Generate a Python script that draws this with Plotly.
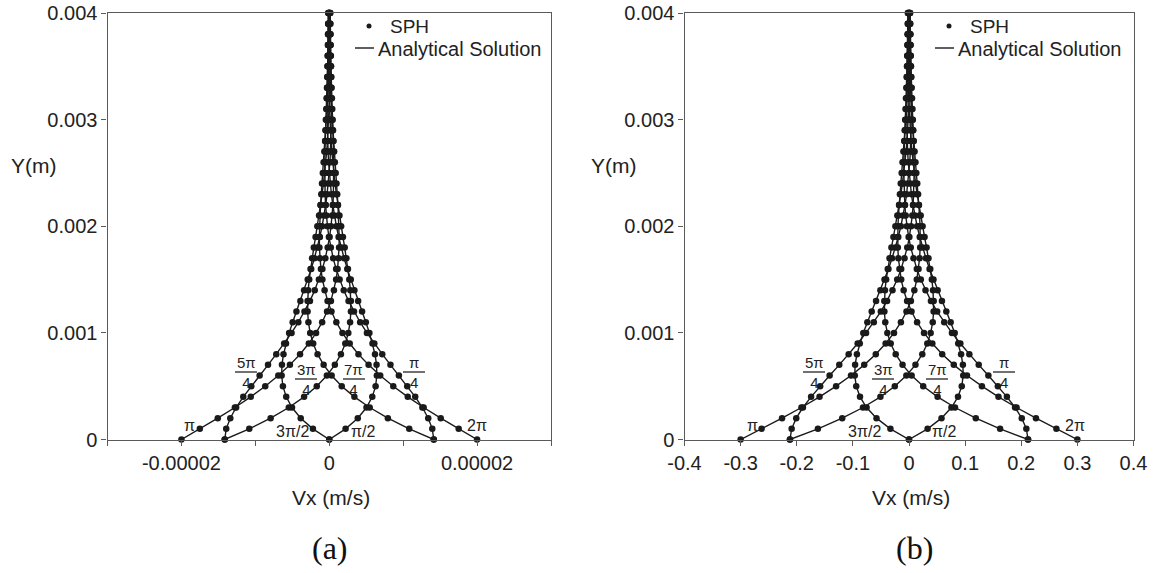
import plotly.graph_objects as go

W, H = 1162, 573
INK = "#1a1a1a"
AXC = "#5a5a5a"
SANS = "Liberation Sans, Arial, sans-serif"
SERIF = "Liberation Serif, Times New Roman, serif"

# ---------------- data ----------------
y_m = [0.0000, 0.0001, 0.0002, 0.0003, 0.0004, 0.0005, 0.0006, 0.0007, 0.0008, 0.0009,
       0.0010, 0.0011, 0.0012, 0.0013, 0.0014, 0.0015, 0.0016, 0.0017, 0.0018, 0.0019,
       0.0020, 0.0021, 0.0022, 0.0023, 0.0024, 0.0025, 0.0026, 0.0027, 0.0028, 0.0029,
       0.0030, 0.0031, 0.0032, 0.0033, 0.0034, 0.0035, 0.0036, 0.0037, 0.0038, 0.0039,
       0.0040]

# panel (a) velocity profiles, m/s
va_2pi = [2.000e-5, 1.751e-5, 1.508e-5, 1.277e-5, 1.062e-5, 0.866e-5, 0.689e-5, 0.532e-5, 0.395e-5, 0.277e-5,
          0.178e-5, 0.096e-5, 0.030e-5, -0.023e-5, -0.063e-5, -0.093e-5, -0.113e-5, -0.126e-5, -0.133e-5, -0.134e-5,
          -0.131e-5, -0.126e-5, -0.118e-5, -0.108e-5, -0.098e-5, -0.087e-5, -0.076e-5, -0.066e-5, -0.056e-5, -0.047e-5,
          -0.038e-5, -0.030e-5, -0.023e-5, -0.017e-5, -0.012e-5, -0.008e-5, -0.004e-5, -0.001e-5, 0.001e-5, 0.003e-5,
          0.004e-5]
va_pi = [-2.000e-5, -1.751e-5, -1.508e-5, -1.277e-5, -1.062e-5, -0.866e-5, -0.689e-5, -0.532e-5, -0.395e-5, -0.277e-5,
         -0.178e-5, -0.096e-5, -0.030e-5, 0.023e-5, 0.063e-5, 0.093e-5, 0.113e-5, 0.126e-5, 0.133e-5, 0.134e-5,
         0.131e-5, 0.126e-5, 0.118e-5, 0.108e-5, 0.098e-5, 0.087e-5, 0.076e-5, 0.066e-5, 0.056e-5, 0.047e-5,
         0.038e-5, 0.030e-5, 0.023e-5, 0.017e-5, 0.012e-5, 0.008e-5, 0.004e-5, 0.001e-5, -0.001e-5, -0.003e-5,
         -0.004e-5]
va_pi2 = [0.000e-5, 0.221e-5, 0.386e-5, 0.504e-5, 0.582e-5, 0.627e-5, 0.644e-5, 0.640e-5, 0.619e-5, 0.585e-5,
          0.543e-5, 0.495e-5, 0.444e-5, 0.391e-5, 0.340e-5, 0.291e-5, 0.244e-5, 0.201e-5, 0.162e-5, 0.127e-5,
          0.097e-5, 0.070e-5, 0.048e-5, 0.029e-5, 0.013e-5, 0.001e-5, -0.009e-5, -0.016e-5, -0.022e-5, -0.025e-5,
          -0.027e-5, -0.028e-5, -0.028e-5, -0.027e-5, -0.025e-5, -0.024e-5, -0.022e-5, -0.019e-5, -0.017e-5, -0.015e-5,
          -0.013e-5]
va_3pi2 = [0.000e-5, -0.221e-5, -0.386e-5, -0.504e-5, -0.582e-5, -0.627e-5, -0.644e-5, -0.640e-5, -0.619e-5, -0.585e-5,
           -0.543e-5, -0.495e-5, -0.444e-5, -0.391e-5, -0.340e-5, -0.291e-5, -0.244e-5, -0.201e-5, -0.162e-5, -0.127e-5,
           -0.097e-5, -0.070e-5, -0.048e-5, -0.029e-5, -0.013e-5, -0.001e-5, 0.009e-5, 0.016e-5, 0.022e-5, 0.025e-5,
           0.027e-5, 0.028e-5, 0.028e-5, 0.027e-5, 0.025e-5, 0.024e-5, 0.022e-5, 0.019e-5, 0.017e-5, 0.015e-5,
           0.013e-5]
va_pi4 = [1.414e-5, 1.394e-5, 1.339e-5, 1.260e-5, 1.163e-5, 1.055e-5, 0.942e-5, 0.828e-5, 0.717e-5, 0.610e-5,
          0.510e-5, 0.418e-5, 0.335e-5, 0.261e-5, 0.196e-5, 0.140e-5, 0.093e-5, 0.053e-5, 0.021e-5, -0.005e-5,
          -0.024e-5, -0.039e-5, -0.050e-5, -0.056e-5, -0.060e-5, -0.061e-5, -0.060e-5, -0.058e-5, -0.055e-5, -0.051e-5,
          -0.046e-5, -0.041e-5, -0.036e-5, -0.031e-5, -0.027e-5, -0.022e-5, -0.018e-5, -0.015e-5, -0.011e-5, -0.009e-5,
          -0.006e-5]
va_5pi4 = [-1.414e-5, -1.394e-5, -1.339e-5, -1.260e-5, -1.163e-5, -1.055e-5, -0.942e-5, -0.828e-5, -0.717e-5, -0.610e-5,
           -0.510e-5, -0.418e-5, -0.335e-5, -0.261e-5, -0.196e-5, -0.140e-5, -0.093e-5, -0.053e-5, -0.021e-5, 0.005e-5,
           0.024e-5, 0.039e-5, 0.050e-5, 0.056e-5, 0.060e-5, 0.061e-5, 0.060e-5, 0.058e-5, 0.055e-5, 0.051e-5,
           0.046e-5, 0.041e-5, 0.036e-5, 0.031e-5, 0.027e-5, 0.022e-5, 0.018e-5, 0.015e-5, 0.011e-5, 0.009e-5,
           0.006e-5]
va_3pi4 = [-1.414e-5, -1.082e-5, -0.793e-5, -0.547e-5, -0.340e-5, -0.169e-5, -0.032e-5, 0.076e-5, 0.158e-5, 0.217e-5,
           0.258e-5, 0.282e-5, 0.293e-5, 0.293e-5, 0.285e-5, 0.271e-5, 0.253e-5, 0.232e-5, 0.209e-5, 0.185e-5,
           0.161e-5, 0.138e-5, 0.117e-5, 0.097e-5, 0.079e-5, 0.062e-5, 0.048e-5, 0.035e-5, 0.024e-5, 0.015e-5,
           0.008e-5, 0.002e-5, -0.003e-5, -0.007e-5, -0.009e-5, -0.011e-5, -0.012e-5, -0.013e-5, -0.013e-5, -0.012e-5,
           -0.012e-5]
va_7pi4 = [1.414e-5, 1.082e-5, 0.793e-5, 0.547e-5, 0.340e-5, 0.169e-5, 0.032e-5, -0.076e-5, -0.158e-5, -0.217e-5,
           -0.258e-5, -0.282e-5, -0.293e-5, -0.293e-5, -0.285e-5, -0.271e-5, -0.253e-5, -0.232e-5, -0.209e-5, -0.185e-5,
           -0.161e-5, -0.138e-5, -0.117e-5, -0.097e-5, -0.079e-5, -0.062e-5, -0.048e-5, -0.035e-5, -0.024e-5, -0.015e-5,
           -0.008e-5, -0.002e-5, 0.003e-5, 0.007e-5, 0.009e-5, 0.011e-5, 0.012e-5, 0.013e-5, 0.013e-5, 0.012e-5,
           0.012e-5]

# panel (b) velocity profiles, m/s
vb_2pi = [0.3000, 0.2626, 0.2262, 0.1916, 0.1594, 0.1299, 0.1033, 0.0798, 0.0592, 0.0416,
          0.0267, 0.0144, 0.0045, -0.0034, -0.0095, -0.0139, -0.0170, -0.0189, -0.0199, -0.0201,
          -0.0197, -0.0188, -0.0177, -0.0162, -0.0147, -0.0131, -0.0115, -0.0099, -0.0084, -0.0070,
          -0.0057, -0.0045, -0.0035, -0.0026, -0.0018, -0.0012, -0.0007, -0.0002, 0.0001, 0.0004,
          0.0006]
vb_pi = [-0.3000, -0.2626, -0.2262, -0.1916, -0.1594, -0.1299, -0.1033, -0.0798, -0.0592, -0.0416,
         -0.0267, -0.0144, -0.0045, 0.0034, 0.0095, 0.0139, 0.0170, 0.0189, 0.0199, 0.0201,
         0.0197, 0.0188, 0.0177, 0.0162, 0.0147, 0.0131, 0.0115, 0.0099, 0.0084, 0.0070,
         0.0057, 0.0045, 0.0035, 0.0026, 0.0018, 0.0012, 0.0007, 0.0002, -0.0001, -0.0004,
         -0.0006]
vb_pi2 = [0.0000, 0.0331, 0.0579, 0.0756, 0.0873, 0.0940, 0.0966, 0.0960, 0.0928, 0.0877,
          0.0814, 0.0742, 0.0665, 0.0587, 0.0510, 0.0436, 0.0366, 0.0302, 0.0243, 0.0191,
          0.0145, 0.0105, 0.0071, 0.0043, 0.0020, 0.0001, -0.0013, -0.0024, -0.0032, -0.0037,
          -0.0041, -0.0042, -0.0042, -0.0040, -0.0038, -0.0035, -0.0032, -0.0029, -0.0026, -0.0022,
          -0.0019]
vb_3pi2 = [0.0000, -0.0331, -0.0579, -0.0756, -0.0873, -0.0940, -0.0966, -0.0960, -0.0928, -0.0877,
           -0.0814, -0.0742, -0.0665, -0.0587, -0.0510, -0.0436, -0.0366, -0.0302, -0.0243, -0.0191,
           -0.0145, -0.0105, -0.0071, -0.0043, -0.0020, -0.0001, 0.0013, 0.0024, 0.0032, 0.0037,
           0.0041, 0.0042, 0.0042, 0.0040, 0.0038, 0.0035, 0.0032, 0.0029, 0.0026, 0.0022,
           0.0019]
vb_pi4 = [0.2121, 0.2091, 0.2009, 0.1890, 0.1744, 0.1583, 0.1414, 0.1242, 0.1075, 0.0915,
          0.0765, 0.0627, 0.0502, 0.0391, 0.0294, 0.0210, 0.0139, 0.0080, 0.0031, -0.0007,
          -0.0037, -0.0059, -0.0074, -0.0084, -0.0090, -0.0092, -0.0091, -0.0087, -0.0082, -0.0076,
          -0.0069, -0.0062, -0.0054, -0.0047, -0.0040, -0.0033, -0.0027, -0.0022, -0.0017, -0.0013,
          -0.0009]
vb_5pi4 = [-0.2121, -0.2091, -0.2009, -0.1890, -0.1744, -0.1583, -0.1414, -0.1242, -0.1075, -0.0915,
           -0.0765, -0.0627, -0.0502, -0.0391, -0.0294, -0.0210, -0.0139, -0.0080, -0.0031, 0.0007,
           0.0037, 0.0059, 0.0074, 0.0084, 0.0090, 0.0092, 0.0091, 0.0087, 0.0082, 0.0076,
           0.0069, 0.0062, 0.0054, 0.0047, 0.0040, 0.0033, 0.0027, 0.0022, 0.0017, 0.0013,
           0.0009]
vb_3pi4 = [-0.2121, -0.1623, -0.1190, -0.0820, -0.0509, -0.0253, -0.0047, 0.0115, 0.0237, 0.0326,
           0.0386, 0.0423, 0.0439, 0.0440, 0.0428, 0.0407, 0.0379, 0.0347, 0.0313, 0.0277,
           0.0242, 0.0208, 0.0175, 0.0145, 0.0118, 0.0093, 0.0071, 0.0053, 0.0036, 0.0023,
           0.0012, 0.0003, -0.0005, -0.0010, -0.0014, -0.0017, -0.0018, -0.0019, -0.0019, -0.0019,
           -0.0018]
vb_7pi4 = [0.2121, 0.1623, 0.1190, 0.0820, 0.0509, 0.0253, 0.0047, -0.0115, -0.0237, -0.0326,
           -0.0386, -0.0423, -0.0439, -0.0440, -0.0428, -0.0407, -0.0379, -0.0347, -0.0313, -0.0277,
           -0.0242, -0.0208, -0.0175, -0.0145, -0.0118, -0.0093, -0.0071, -0.0053, -0.0036, -0.0023,
           -0.0012, -0.0003, 0.0005, 0.0010, 0.0014, 0.0017, 0.0018, 0.0019, 0.0019, 0.0019,
           0.0018]

phase_names = ["π/4", "π/2", "3π/4", "π", "5π/4", "3π/2", "7π/4", "2π"]
curves_a = [va_pi4, va_pi2, va_3pi4, va_pi, va_5pi4, va_3pi2, va_7pi4, va_2pi]
curves_b = [vb_pi4, vb_pi2, vb_3pi4, vb_pi, vb_5pi4, vb_3pi2, vb_7pi4, vb_2pi]

y_ticks = [0, 0.001, 0.002, 0.003, 0.004]
y_ticktext = ["0", "0.001", "0.002", "0.003", "0.004"]
xa_ticks = [-3e-5, -2e-5, -1e-5, 0, 1e-5, 2e-5, 3e-5]
xa_ticktext = ["", "-0.00002", "", "0", "", "0.00002", ""]
xb_ticks = [-0.4, -0.3, -0.2, -0.1, 0, 0.1, 0.2, 0.3, 0.4]
xb_ticktext = ["-0.4", "-0.3", "-0.2", "-0.1", "0", "0.1", "0.2", "0.3", "0.4"]

# ---------------- figure ----------------
fig = go.Figure()

for xs_list, xa, ya in ((curves_a, "x", "y"), (curves_b, "x2", "y2")):
    for name, vals in zip(phase_names, xs_list):
        fig.add_trace(go.Scatter(x=vals, y=y_m, mode="lines", name=name + " analytical",
                                 line=dict(color=INK, width=1.4), xaxis=xa, yaxis=ya,
                                 showlegend=False, hoverinfo="skip", cliponaxis=False))
        fig.add_trace(go.Scatter(x=vals, y=y_m, mode="markers", name=name + " SPH",
                                 marker=dict(color=INK, size=6.5, line=dict(width=0)),
                                 xaxis=xa, yaxis=ya, showlegend=False, hoverinfo="skip",
                                 cliponaxis=False))


def px(x):
    return x / W


def py(y):
    return 1 - y / H


common_axis = dict(showline=True, mirror=True, linecolor=AXC, linewidth=1.2,
                   ticks="outside", ticklen=5, tickcolor=AXC, tickwidth=1.2,
                   showgrid=False, zeroline=False, automargin=False,
                   tickfont=dict(family=SANS, size=20, color="#222"))

fig.update_layout(
    template="none",
    width=W, height=H,
    margin=dict(l=0, r=0, t=0, b=0, pad=0, autoexpand=False),
    paper_bgcolor="white", plot_bgcolor="white",
    showlegend=False,
    xaxis=dict(domain=[px(107.5), px(551)], range=[-3e-5, 3e-5], tickmode="array",
               tickvals=xa_ticks, ticktext=xa_ticktext, anchor="y", **common_axis),
    yaxis=dict(domain=[py(439.5), py(13)], range=[0, 0.004], tickmode="array",
               tickvals=y_ticks, ticktext=y_ticktext, anchor="x", **common_axis),
    xaxis2=dict(domain=[px(684.5), px(1133.5)], range=[-0.4, 0.4], tickmode="array",
                tickvals=xb_ticks, ticktext=xb_ticktext, anchor="y2", **common_axis),
    yaxis2=dict(domain=[py(439.5), py(13)], range=[0, 0.004], tickmode="array",
                tickvals=y_ticks, ticktext=y_ticktext, anchor="x2", **common_axis),
)

annotations = []
shapes = []


def text(x, y, s, size=20, family=SANS, xanchor="center", color="#222"):
    annotations.append(dict(x=px(x), y=py(y), xref="paper", yref="paper", text=s,
                            showarrow=False, xanchor=xanchor, yanchor="middle",
                            borderpad=0, font=dict(family=family, size=size, color=color)))


def frac(cx, y_bar, num, den, size=15):
    text(cx, y_bar, num + "<br>" + den, size=size)
    shapes.append(dict(type="line", xref="paper", yref="paper",
                       x0=px(cx - 11), x1=px(cx + 11), y0=py(y_bar), y1=py(y_bar),
                       line=dict(color="#222", width=1.3)))


for dx, tag in ((0, "(a)"), (580, "(b)")):
    # axis titles and panel tag
    text(34 + dx, 165, "Y(m)", size=21)
    text(331 + dx, 497, "Vx (m/s)", size=21)
    text(330 + dx + (4 if dx else 0), 548, tag, size=32, family=SERIF, color="#111")

# phase labels panel (a)
text(189, 425, "π", 16)
text(477, 425, "2π", 16)
text(292, 431, "3π/2", 16)
text(363, 431, "π/2", 16)
frac(246, 372, "5π", "4")
frac(306, 379, "3π", "4")
frac(354, 379, "7π", "4")
frac(414, 372, "π", "4")

# phase labels panel (b)
text(752, 425, "π", 16)
text(1075, 425, "2π", 16)
text(864, 431, "3π/2", 16)
text(944, 431, "π/2", 16)
frac(814, 372, "5π", "4")
frac(883, 379, "3π", "4")
frac(937, 379, "7π", "4")
frac(1004, 372, "π", "4")

# legends (manual, as in the reference)
for dx in (0, 580):
    shapes.append(dict(type="circle", xref="paper", yref="paper",
                       x0=px(366.5 + dx), x1=px(371.5 + dx), y0=py(28.5), y1=py(23.5),
                       fillcolor=INK, line=dict(width=0)))
    text(389 + dx, 27, "SPH", size=19, xanchor="left")
    shapes.append(dict(type="line", xref="paper", yref="paper",
                       x0=px(355 + dx), x1=px(374 + dx), y0=py(48), y1=py(48),
                       line=dict(color=INK, width=1.4)))
    text(377 + dx, 49, "Analytical Solution", size=20, xanchor="left")

fig.update_layout(annotations=annotations, shapes=shapes)

fig.write_html("out.html")
